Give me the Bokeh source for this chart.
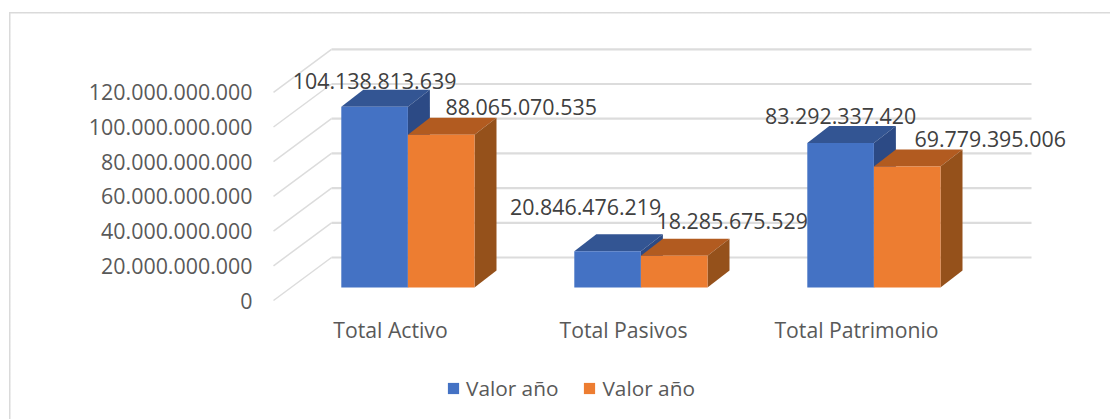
from bokeh.plotting import figure
from bokeh.embed import file_html
from bokeh.resources import INLINE
from bokeh.core.properties import value
from bokeh.models import FixedTicker, Legend, LegendItem, ColumnDataSource

categories = ["Total Activo", "Total Pasivos", "Total Patrimonio"]
serie_a = [104138813639, 20846476219, 83292337420]
serie_b = [88065070535, 18285675529, 69779395006]
y_ticks = [0, 20000000000, 40000000000, 60000000000, 80000000000, 100000000000, 120000000000]
series_names = ["Valor año", "Valor año"]

FONT = "Open Sans"
FONT_SIZE = "21.4px"
W, H = 1110, 419
LEFT, TOP = 262, 40
GROUP_PX = 233.0
VAL_PER_PX = 20e9 / 34.7

def dx(px):
    return px / GROUP_PX

def dv(px):
    return px * VAL_PER_PX

# pixel anchors: category 0 centre at x=408, value 0 (front of the floor) at y=300
x_range = ((LEFT - 408) / GROUP_PX, (W - 408) / GROUP_PX)
y_range = ((300 - H) * VAL_PER_PX, (300 - TOP) * VAL_PER_PX)

p = figure(width=W, height=H, x_range=x_range, y_range=y_range,
           output_backend="svg", toolbar_location=None,
           x_axis_location="above",
           min_border_left=LEFT, min_border_right=0, min_border_top=TOP,
           min_border_bottom=0, outline_line_color=None,
           background_fill_color=None, border_fill_color=None)
p.grid.visible = False

# chart frame drawn behind the transparent canvas
LINE = "linear-gradient(#dadada,#dadada)"
p.styles = {"background": f"{LINE} 9px 12px / 1101px 1.5px no-repeat, "
                          f"{LINE} 9px 12px / 1.5px 407px no-repeat, white"}

# y axis
ya = p.yaxis[0]
ya.ticker = FixedTicker(ticks=y_ticks)
ya.major_label_overrides = {t: f"{t:,}".replace(",", ".") for t in y_ticks}
ya.major_label_text_font = FONT
ya.major_label_text_font_size = FONT_SIZE
ya.major_label_text_color = "#595959"
ya.major_label_standoff = 10
ya.axis_line_color = None
ya.major_tick_line_color = None
ya.minor_tick_line_color = None
ya.major_tick_out = 0
ya.major_tick_in = 0

# x axis (labels sit in front of the bars, under the floor)
LABEL_SHIFT = -18
xa = p.xaxis[0]
x_ticks = [i + dx(LABEL_SHIFT) for i in range(len(categories))]
xa.ticker = FixedTicker(ticks=x_ticks)
xa.major_label_overrides = dict(zip(x_ticks, categories))
xa.major_label_text_font = FONT
xa.major_label_text_font_size = "21.2px"
xa.major_label_text_color = "#595959"
xa.major_label_standoff = 0
xa.major_tick_out = 0
xa.major_tick_in = 0
xa.axis_line_color = None
xa.major_tick_line_color = None
xa.minor_tick_line_color = None
xa.fixed_location = dv(300 - 343)

# gridlines: side wall diagonal then back wall
GRID = "#dcdcdc"
wall_x0 = dx(273 - 408)
wall_x1 = dx(331 - 408)
wall_x2 = dx(1031 - 408)
wall_dv = dv(43)
p.segment(x0=[wall_x0] * len(y_ticks), y0=y_ticks,
          x1=[wall_x1] * len(y_ticks), y1=[t + wall_dv for t in y_ticks],
          line_color=GRID, line_width=1.5)
p.segment(x0=[wall_x1] * len(y_ticks), y0=[t + wall_dv for t in y_ticks],
          x1=[wall_x2] * len(y_ticks), y1=[t + wall_dv for t in y_ticks],
          line_color=GRID, line_width=2.2)

# bars
BAR_W = dx(66.6)
BAR_SHIFT = dx(-0.6)
DEPTH_X = dx(22)
DEPTH_V = dv(17)
BASE = dv(13)

def draw_series(values, x_off, front, top, side):
    xl = [i + x_off for i in range(len(values))]
    xr = [x + BAR_W for x in xl]
    tops = [v + BASE for v in values]
    p.patches(xs=[[l, r, r + DEPTH_X, l + DEPTH_X] for l, r in zip(xl, xr)],
              ys=[[t, t, t + DEPTH_V, t + DEPTH_V] for t in tops],
              fill_color=top, line_color=None)
    p.patches(xs=[[r, r + DEPTH_X, r + DEPTH_X, r] for r in xr],
              ys=[[BASE, BASE + DEPTH_V, t + DEPTH_V, t] for t in tops],
              fill_color=side, line_color=None)
    return p.vbar(x=[x + BAR_W / 2 for x in xl], width=BAR_W, bottom=BASE, top=tops,
                  fill_color=front, line_color=None)

r_a = draw_series(serie_a, BAR_SHIFT - BAR_W, "#4472c4", "#335593", "#2c4a85")
r_b = draw_series(serie_b, BAR_SHIFT, "#ed7d31", "#b25b20", "#95511b")

# data labels, hand-placed in the reference
label_dx_a = [0, -22, 0]
label_dy_a = [26, 44, 26.5]
label_dx_b = [80, 58, 83]
label_dy_b = [28, 34.5, 27]

def draw_labels(values, x_off, ddx, ddy):
    src = ColumnDataSource(dict(
        x=[i + x_off + BAR_W / 2 for i in range(len(values))],
        y=[v + BASE for v in values],
        t=[f"{v:,}".replace(",", ".") for v in values],
        xo=ddx, yo=[-d for d in ddy]))
    p.text(x="x", y="y", text="t", x_offset="xo", y_offset="yo", source=src,
           text_font=value(FONT), text_font_size=FONT_SIZE, text_color="#404040",
           text_align="center", text_baseline="middle")

draw_labels(serie_a, BAR_SHIFT - BAR_W, label_dx_a, label_dy_a)
draw_labels(serie_b, BAR_SHIFT, label_dx_b, label_dy_b)

legend = Legend(items=[LegendItem(label=value(series_names[0]), renderers=[r_a]),
                       LegendItem(label=value(series_names[1]), renderers=[r_b])],
                orientation="horizontal", location=(184, 17),
                border_line_color=None, background_fill_alpha=0,
                label_text_font=FONT, label_text_font_size="20.8px",
                label_text_color="#595959", glyph_width=14, glyph_height=14,
                spacing=24, label_standoff=6, margin=0, padding=0)
p.add_layout(legend, "center")

open("out.html", "w").write(file_html(p, INLINE))
